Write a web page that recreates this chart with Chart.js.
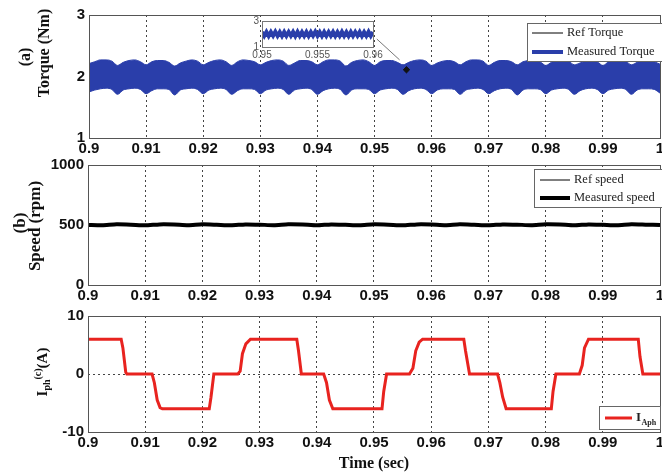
<!DOCTYPE html>
<html>
<head>
<meta charset="utf-8">
<title>Torque, speed and phase current</title>
<script src="https://cdn.jsdelivr.net/npm/chart.js@4.4.0/dist/chart.umd.min.js"></script>
<style>
    html, body { margin: 0; padding: 0; background: #fff; overflow: hidden; width: 662px; height: 475px; }
    canvas { position: absolute; left: 0; }
    #torque-chart { top: 0; }
    #speed-chart { top: 150px; }
    #current-chart { top: 300px; }
    #zoom-chart { left: 235px; top: 12px; }
</style>
</head>
<body>
<canvas id="torque-chart" width="680" height="160"></canvas>
<canvas id="speed-chart" width="680" height="160"></canvas>
<canvas id="current-chart" width="680" height="175"></canvas>
<canvas id="zoom-chart" width="150" height="52"></canvas>
<script>
// tick labels
const timeTicks = [0.9, 0.91, 0.92, 0.93, 0.94, 0.95, 0.96, 0.97, 0.98, 0.99, 1];
const torqueTicks = [1, 2, 3];
const speedTicks = [0, 500, 1000];
const currentTicks = [-10, 0, 10];
const zoomTimeTicks = [0.95, 0.955, 0.96];

// torque band (upper / lower envelope of the measured torque ripple)
const torqueTime = [
    0.900, 0.901, 0.902, 0.903, 0.904, 0.905, 0.906, 0.907, 0.908, 0.909,
    0.910, 0.911, 0.912, 0.913, 0.914, 0.915, 0.916, 0.917, 0.918, 0.919,
    0.920, 0.921, 0.922, 0.923, 0.924, 0.925, 0.926, 0.927, 0.928, 0.929,
    0.930, 0.931, 0.932, 0.933, 0.934, 0.935, 0.936, 0.937, 0.938, 0.939,
    0.940, 0.941, 0.942, 0.943, 0.944, 0.945, 0.946, 0.947, 0.948, 0.949,
    0.950, 0.951, 0.952, 0.953, 0.954, 0.955, 0.956, 0.957, 0.958, 0.959,
    0.960, 0.961, 0.962, 0.963, 0.964, 0.965, 0.966, 0.967, 0.968, 0.969,
    0.970, 0.971, 0.972, 0.973, 0.974, 0.975, 0.976, 0.977, 0.978, 0.979,
    0.980, 0.981, 0.982, 0.983, 0.984, 0.985, 0.986, 0.987, 0.988, 0.989,
    0.990, 0.991, 0.992, 0.993, 0.994, 0.995, 0.996, 0.997, 0.998, 0.999,
    1.000
];
const torqueUpper = [
    2.21, 2.24, 2.27, 2.27, 2.25, 2.18, 2.23, 2.26, 2.27, 2.24,
    2.19, 2.24, 2.26, 2.26, 2.23, 2.17, 2.22, 2.25, 2.27, 2.25,
    2.19, 2.23, 2.26, 2.27, 2.24, 2.18, 2.24, 2.27, 2.26, 2.24,
    2.19, 2.23, 2.26, 2.27, 2.25, 2.18, 2.22, 2.26, 2.26, 2.24,
    2.19, 2.24, 2.27, 2.27, 2.25, 2.17, 2.23, 2.26, 2.27, 2.24,
    2.18, 2.24, 2.26, 2.26, 2.23, 2.19, 2.23, 2.26, 2.27, 2.25,
    2.18, 2.22, 2.25, 2.26, 2.24, 2.19, 2.24, 2.27, 2.27, 2.25,
    2.18, 2.23, 2.26, 2.26, 2.24, 2.19, 2.24, 2.26, 2.27, 2.24,
    2.18, 2.23, 2.26, 2.27, 2.25, 2.19, 2.22, 2.25, 2.26, 2.24,
    2.18, 2.24, 2.27, 2.27, 2.25, 2.19, 2.23, 2.26, 2.26, 2.24,
    2.20
];
const torqueLower = [
    1.75, 1.78, 1.80, 1.81, 1.79, 1.71, 1.78, 1.80, 1.81, 1.79,
    1.72, 1.77, 1.80, 1.80, 1.79, 1.70, 1.78, 1.80, 1.81, 1.79,
    1.72, 1.78, 1.80, 1.81, 1.79, 1.71, 1.77, 1.80, 1.80, 1.79,
    1.72, 1.78, 1.80, 1.81, 1.79, 1.71, 1.78, 1.80, 1.81, 1.79,
    1.71, 1.77, 1.80, 1.81, 1.79, 1.70, 1.78, 1.80, 1.80, 1.79,
    1.72, 1.78, 1.80, 1.81, 1.79, 1.71, 1.77, 1.80, 1.81, 1.79,
    1.72, 1.78, 1.80, 1.80, 1.79, 1.71, 1.78, 1.80, 1.81, 1.79,
    1.72, 1.77, 1.80, 1.81, 1.79, 1.70, 1.78, 1.80, 1.80, 1.79,
    1.72, 1.78, 1.80, 1.81, 1.79, 1.71, 1.77, 1.80, 1.81, 1.79,
    1.72, 1.78, 1.80, 1.81, 1.79, 1.71, 1.78, 1.80, 1.80, 1.79,
    1.73
];
const refTorqueTime = [0.9, 1.0];
const refTorque = [2, 2];
// zoom pointer and the spot it points at
const pointerTime = [0.9504, 0.9544];
const pointerTorque = [2.61, 2.27];
const spotTime = [0.9556];
const spotTorque = [2.11];

// zoomed torque 0.95 .. 0.96 s
const zoomTime = [
    0.9500, 0.9502, 0.9504, 0.9506, 0.9508, 0.9510, 0.9512, 0.9514, 0.9516, 0.9518,
    0.9520, 0.9522, 0.9524, 0.9526, 0.9528, 0.9530, 0.9532, 0.9534, 0.9536, 0.9538,
    0.9540, 0.9542, 0.9544, 0.9546, 0.9548, 0.9550, 0.9552, 0.9554, 0.9556, 0.9558,
    0.9560, 0.9562, 0.9564, 0.9566, 0.9568, 0.9570, 0.9572, 0.9574, 0.9576, 0.9578,
    0.9580, 0.9582, 0.9584, 0.9586, 0.9588, 0.9590, 0.9592, 0.9594, 0.9596, 0.9598,
    0.9600
];
const zoomTorque = [
    2.15, 1.85, 2.16, 1.84, 2.15, 1.86, 2.17, 1.85, 2.15, 1.84,
    2.16, 1.85, 2.15, 1.86, 2.16, 1.84, 2.17, 1.85, 2.15, 1.85,
    2.16, 1.84, 2.15, 1.86, 2.17, 1.85, 2.15, 1.84, 2.16, 1.85,
    2.15, 1.86, 2.16, 1.84, 2.15, 1.85, 2.17, 1.85, 2.15, 1.84,
    2.16, 1.85, 2.15, 1.86, 2.16, 1.84, 2.15, 1.85, 2.17, 1.85,
    2.15
];

// speed
const speedTime = [
    0.9000, 0.9025, 0.9050, 0.9075, 0.9100, 0.9125, 0.9150, 0.9175, 0.9200, 0.9225,
    0.9250, 0.9275, 0.9300, 0.9325, 0.9350, 0.9375, 0.9400, 0.9425, 0.9450, 0.9475,
    0.9500, 0.9525, 0.9550, 0.9575, 0.9600, 0.9625, 0.9650, 0.9675, 0.9700, 0.9725,
    0.9750, 0.9775, 0.9800, 0.9825, 0.9850, 0.9875, 0.9900, 0.9925, 0.9950, 0.9975,
    1.0000
];
const measuredSpeed = [
    500, 498, 506, 503, 497, 505, 504, 498, 506, 502,
    497, 505, 503, 498, 506, 504, 497, 505, 502, 498,
    506, 503, 497, 505, 504, 498, 506, 502, 497, 505,
    503, 498, 506, 504, 497, 505, 502, 498, 506, 503,
    500
];
const refSpeedTime = [0.9, 1.0];
const refSpeed = [500, 500];

// phase A current
const currentTime = [
    0.9000, 0.9058, 0.9061, 0.9066, 0.9068, 0.9112, 0.9116, 0.9121, 0.9126, 0.9130,
    0.9212, 0.9215, 0.9220, 0.9262, 0.9266, 0.9270, 0.9276, 0.9284, 0.9365, 0.9368,
    0.9373, 0.9412, 0.9417, 0.9422, 0.9428, 0.9514, 0.9517, 0.9522, 0.9562, 0.9568,
    0.9573, 0.9579, 0.9585, 0.9657, 0.9660, 0.9667, 0.9716, 0.9720, 0.9725, 0.9731,
    0.9810, 0.9813, 0.9818, 0.9859, 0.9864, 0.9868, 0.9875, 0.9962, 0.9965, 0.9970,
    1.0000
];
const phaseCurrent = [
    6, 6, 4.5, 0.3, 0, 0, -1.5, -4.5, -5.8, -6,
    -6, -4, 0, 0, 0.5, 3.5, 5.2, 6, 6, 4,
    0, 0, -1.5, -4.5, -6, -6, -3, 0, 0, 1,
    4, 5.5, 6, 6, 4, 0, 0, -1.5, -4, -6,
    -6, -3, 0, 0, 1.5, 4.5, 6, 6, 3, 0,
    0
];

const BLUE = '#2a3eaa';
const RED = '#e8231f';
const SANS = "'Liberation Sans', Arial, sans-serif";
const SERIF = "'Liberation Serif', 'Times New Roman', serif";

function points(xs, ys) {
    return xs.map((x, i) => ({ x: x, y: ys[i] }));
}

function fixedTicks(values) {
    return function(scale) {
        scale.ticks = values.map(v => ({ value: v }));
    };
}

function timeAxis(height, withTitle) {
    return {
        type: 'linear',
        min: 0.9,
        max: 1.0,
        afterBuildTicks: fixedTicks(timeTicks),
        ticks: {
            padding: 2,
            color: '#111',
            maxRotation: 0,
            autoSkip: false,
            font: { family: SANS, weight: 'bold', size: 15 },
            callback: v => String(v)
        },
        grid: { color: '#444', lineWidth: 1, drawTicks: false },
        border: { display: false, dash: [2, 3] },
        title: {
            display: withTitle,
            text: 'Time (sec)',
            color: '#111',
            font: { family: SERIF, weight: 'bold', size: 16 },
            padding: { top: 0, bottom: 2 }
        },
        afterFit: s => { s.height = height; }
    };
}

function valueAxis(min, max, ticks, width) {
    return {
        min: min,
        max: max,
        afterBuildTicks: fixedTicks(ticks),
        ticks: {
            padding: 4,
            color: '#111',
            font: { family: SANS, weight: 'bold', size: 15 },
            callback: v => String(v)
        },
        grid: { color: '#444', lineWidth: 1, drawTicks: false },
        border: { display: false, dash: [2, 3] },
        afterFit: s => { s.width = width; }
    };
}

function rotatedText(ctx, text, x, y, font) {
    ctx.save();
    ctx.translate(x, y);
    ctx.rotate(-Math.PI / 2);
    ctx.font = font;
    ctx.fillStyle = '#111';
    ctx.textAlign = 'center';
    ctx.textBaseline = 'middle';
    ctx.fillText(text, 0, 0);
    ctx.restore();
}

// rotated label built from pieces: [text, font, baseline shift]
function rotatedPieces(ctx, pieces, x, y) {
    ctx.save();
    ctx.translate(x, y);
    ctx.rotate(-Math.PI / 2);
    ctx.fillStyle = '#111';
    ctx.textBaseline = 'alphabetic';
    ctx.textAlign = 'left';
    let total = 0;
    const widths = pieces.map(p => {
        ctx.font = p[1];
        const w = ctx.measureText(p[0]).width;
        total += w;
        return w;
    });
    let u = -total / 2;
    pieces.forEach((p, i) => {
        ctx.font = p[1];
        ctx.fillText(p[0], u, p[2]);
        u += widths[i];
    });
    ctx.restore();
}

// plot frame, boxed legend and y axis label for one panel
function panelDecor(legend, drawLabel) {
    return {
        id: 'panelDecor',
        afterDatasetsDraw(chart) {
            const ctx = chart.ctx;
            const a = chart.chartArea;
            ctx.save();
            ctx.strokeStyle = '#555';
            ctx.lineWidth = 1;
            ctx.strokeRect(Math.round(a.left) + 0.5, Math.round(a.top) + 0.5,
                Math.round(a.right - a.left), Math.round(a.bottom - a.top));

            if (legend) {
                ctx.fillStyle = '#fff';
                ctx.fillRect(legend.x, legend.y, legend.w, legend.h);
                ctx.strokeStyle = '#666';
                ctx.strokeRect(legend.x + 0.5, legend.y + 0.5, legend.w, legend.h);
                legend.items.forEach((it, i) => {
                    const y = legend.y + legend.firstRow + i * legend.rowGap;
                    ctx.strokeStyle = it.color;
                    ctx.lineWidth = it.width;
                    ctx.beginPath();
                    ctx.moveTo(legend.x + legend.lineFrom, y);
                    ctx.lineTo(legend.x + legend.lineTo, y);
                    ctx.stroke();
                    ctx.fillStyle = '#222';
                    ctx.font = legend.font;
                    ctx.textBaseline = 'middle';
                    ctx.textAlign = 'left';
                    const tx = legend.x + legend.textAt;
                    ctx.fillText(it.text, tx, y);
                    if (it.sub) {
                        const w = ctx.measureText(it.text).width;
                        ctx.font = legend.subFont;
                        ctx.fillText(it.sub, tx + w + 0.5, y + 5);
                    }
                });
            }
            ctx.restore();
        },
        afterDraw(chart) {
            drawLabel(chart.ctx);
        }
    };
}

const TITLE_FONT = "bold 16px " + SERIF;

// (a) torque; later datasets are painted first
new Chart(document.getElementById('torque-chart'), {
    type: 'line',
    data: {
        datasets: [
            { data: points(spotTime, spotTorque), showLine: false, pointRadius: 3.2, pointBackgroundColor: '#111',
              pointBorderColor: '#111', pointStyle: 'rectRot' },
            { data: points(pointerTime, pointerTorque), borderColor: '#777', borderWidth: 1, pointRadius: 0 },
            { data: points(torqueTime, torqueUpper), borderColor: BLUE, backgroundColor: BLUE, borderWidth: 1,
              pointRadius: 0, cubicInterpolationMode: 'monotone', fill: '+1' },
            { data: points(torqueTime, torqueLower), borderColor: BLUE, borderWidth: 1, pointRadius: 0,
              cubicInterpolationMode: 'monotone', fill: false },
            { data: points(refTorqueTime, refTorque), borderColor: '#000', borderWidth: 1, pointRadius: 0 }
        ]
    },
    options: {
        responsive: false,
        animation: false,
        layout: { padding: { left: 0, top: 15, right: 20, bottom: 0 } },
        plugins: { legend: { display: false }, tooltip: { enabled: false } },
        scales: {
            x: timeAxis(22, false),
            y: valueAxis(1, 3, torqueTicks, 89)
        }
    },
    plugins: [panelDecor({
        x: 527, y: 23, w: 140, h: 38, firstRow: 10, rowGap: 19,
        lineFrom: 5, lineTo: 36, textAt: 40,
        font: "12.5px " + SERIF,
        items: [
            { text: 'Ref Torque', color: '#000', width: 1 },
            { text: 'Measured Torque', color: BLUE, width: 4 }
        ]
    }, ctx => {
        rotatedText(ctx, '(a)', 26, 57, TITLE_FONT);
        rotatedText(ctx, 'Torque (Nm)', 45, 53, TITLE_FONT);
    })]
});

// (b) speed
new Chart(document.getElementById('speed-chart'), {
    type: 'line',
    data: {
        datasets: [
            { data: points(speedTime, measuredSpeed), borderColor: '#000', borderWidth: 4, pointRadius: 0, tension: 0.2 },
            { data: points(refSpeedTime, refSpeed), borderColor: '#000', borderWidth: 1, pointRadius: 0 }
        ]
    },
    options: {
        responsive: false,
        animation: false,
        layout: { padding: { left: 0, top: 15, right: 20, bottom: 0 } },
        plugins: { legend: { display: false }, tooltip: { enabled: false } },
        scales: {
            x: timeAxis(25, false),
            y: valueAxis(0, 1000, speedTicks, 88)
        }
    },
    plugins: [panelDecor({
        x: 534, y: 19, w: 140, h: 38, firstRow: 11, rowGap: 18,
        lineFrom: 6, lineTo: 36, textAt: 40,
        font: "12.5px " + SERIF,
        items: [
            { text: 'Ref speed', color: '#000', width: 1 },
            { text: 'Measured speed', color: '#000', width: 4 }
        ]
    }, ctx => {
        rotatedText(ctx, '(b)', 21, 73, "bold 17px " + SERIF);
        rotatedText(ctx, 'Speed (rpm)', 36, 76, "bold 17px " + SERIF);
    })]
});

// (c) phase current
new Chart(document.getElementById('current-chart'), {
    type: 'line',
    data: {
        datasets: [
            { data: points(currentTime, phaseCurrent), borderColor: RED, borderWidth: 3, pointRadius: 0, tension: 0 }
        ]
    },
    options: {
        responsive: false,
        animation: false,
        layout: { padding: { left: 0, top: 16, right: 20, bottom: 0 } },
        plugins: { legend: { display: false }, tooltip: { enabled: false } },
        scales: {
            x: timeAxis(43, true),
            y: valueAxis(-10, 10, currentTicks, 88)
        }
    },
    plugins: [panelDecor({
        x: 599, y: 106, w: 61, h: 23, firstRow: 12, rowGap: 0,
        lineFrom: 6, lineTo: 33, textAt: 37,
        font: "bold 13px " + SERIF,
        subFont: "bold 8px " + SERIF,
        items: [
            { text: 'I', sub: 'Aph', color: RED, width: 3 }
        ]
    }, ctx => {
        // I, subscript ph, superscript (c), then (A), read bottom to top
        const big = "bold 15px " + SERIF;
        const small = "bold 10px " + SERIF;
        rotatedPieces(ctx, [
            ['I', big, 0],
            ['ph', small, 3],
            ['(c)', small, -6],
            ['(A)', big, 0]
        ], 47, 72);
    })]
});

// zoomed torque window drawn inside panel (a)
new Chart(document.getElementById('zoom-chart'), {
    type: 'line',
    data: {
        datasets: [
            { data: points(zoomTime, zoomTorque), borderColor: BLUE, borderWidth: 4, pointRadius: 0, tension: 0 }
        ]
    },
    options: {
        responsive: false,
        animation: false,
        layout: { padding: { left: 0, top: 8, right: 12, bottom: 0 } },
        plugins: { legend: { display: false }, tooltip: { enabled: false } },
        scales: {
            x: {
                type: 'linear', min: 0.95, max: 0.96,
                afterBuildTicks: fixedTicks(zoomTimeTicks),
                ticks: { padding: 2, color: '#555', maxRotation: 0, autoSkip: false,
                         font: { family: SANS, size: 10 }, callback: v => String(v) },
                grid: { display: false, drawTicks: false },
                border: { display: false },
                afterFit: s => { s.height = 17; }
            },
            y: {
                min: 1, max: 3,
                afterBuildTicks: fixedTicks(torqueTicks),
                ticks: { padding: 3, color: '#555', font: { family: SANS, size: 10 }, callback: v => String(v) },
                grid: { display: false, drawTicks: false },
                border: { display: false },
                afterFit: s => { s.width = 27; }
            }
        }
    },
    plugins: [{
        id: 'zoomFrame',
        afterDatasetsDraw(chart) {
            const ctx = chart.ctx;
            const a = chart.chartArea;
            ctx.save();
            ctx.strokeStyle = '#777';
            ctx.lineWidth = 1;
            ctx.strokeRect(Math.round(a.left) + 0.5, Math.round(a.top) + 0.5,
                Math.round(a.right - a.left), Math.round(a.bottom - a.top));
            ctx.restore();
        }
    }]
});
</script>
</body>
</html>
